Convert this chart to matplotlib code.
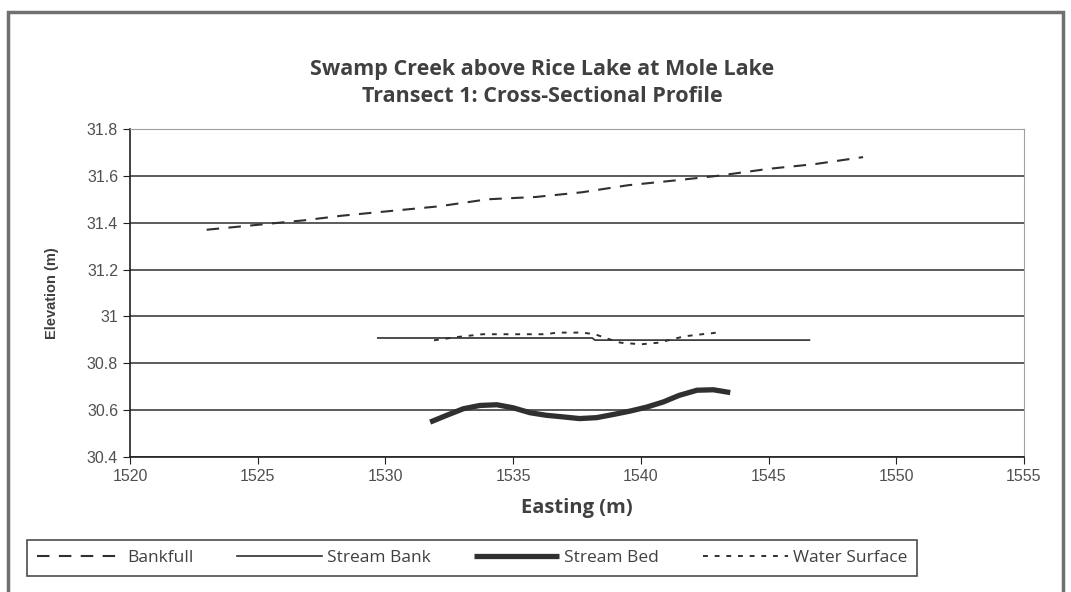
import matplotlib.pyplot as plt
from matplotlib.patches import Rectangle

# values
bankfull_e = [1523.0, 1524.9, 1526.8, 1528.3, 1530.2, 1532.1, 1534.0, 1535.9,
              1537.7, 1539.5, 1541.3, 1543.0, 1545.0, 1546.8, 1548.7]
bankfull_z = [31.37, 31.39, 31.41, 31.43, 31.45, 31.47, 31.50, 31.51,
              31.53, 31.56, 31.58, 31.60, 31.63, 31.65, 31.68]

bank_e = [1529.7, 1538.1, 1538.2, 1546.6]
bank_z = [30.908, 30.908, 30.899, 30.899]

bed_e = [1531.75, 1532.4, 1533.05, 1533.7, 1534.36, 1535.0, 1535.66, 1536.3,
         1536.97, 1537.6, 1538.27, 1538.9, 1539.58, 1540.23, 1540.88, 1541.5,
         1542.2, 1542.84, 1543.5]
bed_z = [30.549, 30.578, 30.606, 30.620, 30.623, 30.610, 30.589, 30.578,
         30.571, 30.564, 30.568, 30.581, 30.596, 30.613, 30.635, 30.663,
         30.685, 30.687, 30.675]

water_e = [1531.9, 1532.8, 1533.8, 1534.4, 1536.3, 1536.7, 1537.7, 1538.2,
           1538.7, 1539.2, 1540.0, 1540.7, 1541.7, 1542.4, 1543.0]
water_z = [30.898, 30.912, 30.924, 30.924, 30.924, 30.931, 30.931, 30.924,
           30.905, 30.888, 30.881, 30.888, 30.915, 30.924, 30.931]

x_ticks = [1520, 1525, 1530, 1535, 1540, 1545, 1550, 1555]
y_ticks = [30.4, 30.6, 30.8, 31.0, 31.2, 31.4, 31.6, 31.8]
y_labels = ["30.4", "30.6", "30.8", "31", "31.2", "31.4", "31.6", "31.8"]

plt.rcParams['font.family'] = ['Open Sans', 'DejaVu Sans']
txt = '#404040'
ln = '#303030'

fig = plt.figure(figsize=(10.71, 5.92), dpi=100)
fig.patches.append(Rectangle((8 / 1071, -0.05), 1055 / 1071, 1.05 - 12 / 592,
                             transform=fig.transFigure, fill=False,
                             edgecolor='#707070', lw=2.5))

ax = fig.add_axes([130 / 1071, 1 - 457 / 592, 894 / 1071, 328 / 592])

ax.plot(bankfull_e, bankfull_z, color=ln, lw=1.5, dashes=(6, 4.5), label='Bankfull')
ax.plot(bank_e, bank_z, color=ln, lw=1.2, label='Stream Bank')
ax.plot(bed_e, bed_z, color=ln, lw=3.8, solid_capstyle='butt', label='Stream Bed')
ax.plot(water_e, water_z, color=ln, lw=1.4, dashes=(2.5, 3.5), label='Water Surface')

ax.set_xlim(1520, 1555)
ax.set_ylim(30.4, 31.8)
ax.set_xticks(x_ticks)
ax.set_yticks(y_ticks)
ax.set_yticklabels(y_labels)
ax.tick_params(colors='#202020', labelcolor='#505050', labelsize=10,
               direction='out', length=5)
for lab in ax.get_xticklabels() + ax.get_yticklabels():
    lab.set_family(['Liberation Sans', 'DejaVu Sans'])
    lab.set_fontsize(11.5)
ax.grid(axis='y', color='#404040', lw=1.2)
ax.set_axisbelow(True)
for s in ['top', 'right']:
    ax.spines[s].set_color('#a0a0a0')
for s in ['left', 'bottom']:
    ax.spines[s].set_color('#202020')
    ax.spines[s].set_linewidth(1.2)

ax.set_xlabel('Easting (m)', fontsize=14.5, fontweight='bold', color=txt, labelpad=10)
ax.set_ylabel('Elevation (m)', fontsize=10.5, fontweight='bold', color=txt,
              labelpad=20, family=['Liberation Sans', 'DejaVu Sans'])

fig.text(542 / 1071, 1 - 70 / 592, 'Swamp Creek above Rice Lake at Mole Lake',
         ha='center', va='center', fontsize=15.5, fontweight='bold', color=txt)
fig.text(542 / 1071, 1 - 96 / 592, 'Transect 1: Cross-Sectional Profile',
         ha='center', va='center', fontsize=15.5, fontweight='bold', color=txt)

leg = fig.legend(loc='center left', bbox_to_anchor=(27 / 1071, 1 - 558 / 592),
                 ncol=4, frameon=True, fancybox=False, fontsize=12.5,
                 handlelength=4.9, handletextpad=0.3, columnspacing=2.5,
                 borderpad=0.55, borderaxespad=0)
leg.get_frame().set_edgecolor('#202020')
leg.get_frame().set_linewidth(1.2)
for t in leg.get_texts():
    t.set_color(txt)

fig.savefig('out.png', dpi=100)
